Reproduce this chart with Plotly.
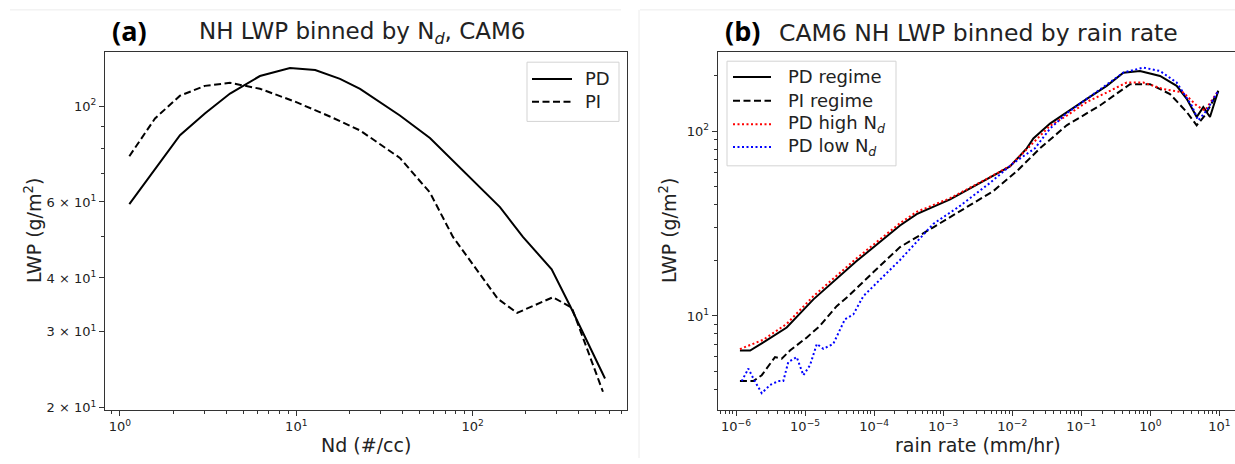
import plotly.graph_objects as go

# ---------------- Panel (a): LWP binned by Nd ----------------
nd_pd = [1.13, 1.58, 2.19, 3.03, 4.21, 6.22, 9.21, 12.8, 17.7, 23.0, 38.7, 57.3, 96.7, 143, 193, 281, 357, 446, 564]
lwp_pd_a = [59.3, 71.3, 85.7, 96.2, 107, 117.5, 122.6, 121.3, 115.7, 109.7, 95.2, 84.4, 68.4, 58.4, 49.8, 41.9, 34.5, 28.6, 23.4]

nd_pi = [1.13, 1.58, 2.19, 3.03, 4.21, 6.22, 9.83, 15.5, 23.0, 38.7, 57.3, 77.4, 139, 179, 286, 366, 549]
lwp_pi_a = [76.6, 93.7, 105.8, 111.5, 113.3, 109.8, 102.5, 94.7, 87.9, 75.9, 63.1, 49.8, 35.8, 33.2, 36.1, 34.1, 21.8]

# ---------------- Panel (b): LWP binned by rain rate ----------------
rr_pd = [1.14e-6, 1.60e-6, 2.49e-6, 5.42e-6, 1.32e-5, 5.47e-5, 2.37e-4, 4.13e-4, 1.26e-3, 4.27e-3,
         9.27e-3, 1.62e-2, 2.02e-2, 3.52e-2, 6.14e-2, 0.120, 0.233, 0.406, 0.706, 1.38,
         2.40, 3.36, 4.68, 5.83, 7.29, 9.62]
lwp_pd_b = [6.5, 6.5, 7.2, 8.66, 12.3, 19.7, 30.9, 35.6, 42.8, 54.7,
            64.5, 80.8, 91.4, 110, 127, 149.6, 176, 207.5, 211.7, 199,
            176, 149.6, 119.4, 135, 119.4, 165.6]

rr_pi = [1.14e-6, 1.78e-6, 2.36e-6, 3.67e-6, 4.59e-6, 6.05e-6, 1.06e-5, 1.64e-5, 2.87e-5, 4.23e-5,
         9.95e-5, 2.37e-4, 7.19e-4, 2.19e-3, 5.31e-3, 1.16e-2, 2.52e-2, 6.14e-2, 0.186, 0.507,
         0.986, 1.92, 3.36, 4.68, 6.17, 9.62]
lwp_pi_b = [4.44, 4.44, 4.78, 5.99, 5.87, 6.5, 7.65, 8.84, 11.3, 12.8,
            17.4, 23.6, 30.2, 38.6, 47.4, 60.7, 80.8, 107.6, 137.7, 179.7,
            179.7, 159, 127, 107.6, 121.8, 165]

rr_high = [1.14e-6, 2.49e-6, 5.42e-6, 1.32e-5, 5.47e-5, 2.37e-4, 4.13e-4, 1.26e-3, 4.27e-3, 9.27e-3,
           1.62e-2, 3.52e-2, 6.14e-2, 0.120, 0.233, 0.454, 0.789, 1.54, 2.99, 4.68,
           6.17, 9.62]
lwp_high = [6.62, 7.44, 9.06, 12.8, 20.4, 31.8, 36.6, 43.4, 55.2, 64.8,
            79.8, 107, 121.3, 144, 162, 183.5, 183.5, 169, 162, 137.7,
            129.5, 165.6]

rr_low = [1.21e-6, 1.51e-6, 1.78e-6, 2.36e-6, 3.11e-6, 4.10e-6, 4.84e-6, 5.71e-6, 7.57e-6, 9.44e-6,
          1.18e-5, 1.48e-5, 1.84e-5, 2.56e-5, 3.78e-5, 5.00e-5, 6.97e-5, 2.37e-4, 7.19e-4, 1.75e-3,
          4.76e-3, 1.035e-2, 2.13e-2, 3.52e-2, 6.14e-2, 0.120, 0.233, 0.406, 0.789, 1.38,
          2.40, 3.96, 4.94, 6.53, 9.62]
lwp_low = [4.44, 5.19, 4.59, 3.82, 4.23, 4.44, 4.44, 5.63, 5.99, 4.78,
           5.41, 7.06, 6.64, 7.06, 9.6, 10.2, 12.8, 20.1, 31.5, 39.4,
           52.5, 67.2, 80.8, 103.3, 125, 150, 178, 207.5, 221, 211.7,
           183.5, 137.7, 114.5, 129.5, 165.6]

# legend labels
legend_a = ["PD", "PI"]
legend_b = ["PD regime", "PI regime", "PD high N<sub><i>d</i></sub>", "PD low N<sub><i>d</i></sub>"]

# tick definitions
a_x_major = [1, 10, 100]
a_x_major_text = ["10<sup>0</sup>", "10<sup>1</sup>", "10<sup>2</sup>"]
a_y_major = [20, 30, 40, 60, 100]
a_y_major_text = ["2 × 10<sup>1</sup>", "3 × 10<sup>1</sup>", "4 × 10<sup>1</sup>",
                  "6 × 10<sup>1</sup>", "10<sup>2</sup>"]
b_x_major = [1e-6, 1e-5, 1e-4, 1e-3, 1e-2, 1e-1, 1, 10]
b_x_major_text = ["10<sup>−6</sup>", "10<sup>−5</sup>", "10<sup>−4</sup>", "10<sup>−3</sup>",
                  "10<sup>−2</sup>", "10<sup>−1</sup>", "10<sup>0</sup>", "10<sup>1</sup>"]
b_y_major = [10, 100]
b_y_major_text = ["10<sup>1</sup>", "10<sup>2</sup>"]

a_x_minor = [0.9] + [m * 10 ** e for e in (0, 1, 2) for m in range(2, 10) if m * 10 ** e < 750]
a_y_minor = [50, 70, 80, 90]
b_x_minor = [m * 10.0 ** e for e in range(-7, 2) for m in range(2, 10) if 5.5e-7 < m * 10.0 ** e < 16]
b_y_minor = [4, 5, 6, 7, 8, 9, 20, 30, 40, 50, 60, 70, 80, 90, 200]

W, H = 1235, 464
FONT = "DejaVu Sans"
INK = "#222222"
SPINE = "#333333"
DASH = "7px,3.5px"
DOT = "2px,2.5px"

styles_a = [dict(color="black", width=2), dict(color="black", width=2, dash=DASH)]
styles_b = [dict(color="black", width=2), dict(color="black", width=2, dash=DASH),
            dict(color="red", width=2, dash=DOT), dict(color="blue", width=2, dash=DOT)]

fig = go.Figure()
for xs, ys, nm, st in zip([nd_pd, nd_pi], [lwp_pd_a, lwp_pi_a], legend_a, styles_a):
    fig.add_trace(go.Scatter(x=xs, y=ys, mode="lines", name=nm, line=st, xaxis="x", yaxis="y",
                             showlegend=False))
for xs, ys, nm, st in zip([rr_pd, rr_pi, rr_high, rr_low], [lwp_pd_b, lwp_pi_b, lwp_high, lwp_low],
                          legend_b, styles_b):
    fig.add_trace(go.Scatter(x=xs, y=ys, mode="lines", name=nm, line=st, xaxis="x2", yaxis="y2",
                             showlegend=False))

ydom = [49 / H, 411 / H]


def axis(domain, rng, tv, tt, minor_vals, mirror=True, anchor=None):
    d = dict(type="log", domain=domain, range=rng, tickmode="array", tickvals=tv, ticktext=tt,
             ticks="outside", ticklen=5, tickwidth=1, tickcolor=SPINE,
             showline=True, linecolor=SPINE, linewidth=1, mirror=mirror,
             showgrid=False, zeroline=False,
             tickfont=dict(family=FONT, size=13, color=INK),
             minor=dict(tickmode="array", tickvals=minor_vals, ticks="outside", ticklen=3,
                        tickwidth=1, tickcolor=SPINE, showgrid=False))
    if anchor:
        d["anchor"] = anchor
    return d


fig.update_layout(
    width=W, height=H, margin=dict(l=0, r=0, t=0, b=0),
    paper_bgcolor="white", plot_bgcolor="white",
    font=dict(family=FONT, color=INK),
    xaxis=axis([105 / W, 627 / W], [-0.085, 2.876], a_x_major, a_x_major_text, a_x_minor, anchor="y"),
    yaxis=axis(ydom, [1.297, 2.125], a_y_major, a_y_major_text, a_y_minor, anchor="x"),
    xaxis2=axis([717.7 / W, 1.0], [-6.265, 1.225], b_x_major, b_x_major_text, b_x_minor, anchor="y2"),
    yaxis2=axis(ydom, [0.493, 2.427], b_y_major, b_y_major_text, b_y_minor, mirror=False, anchor="x2"),
    showlegend=False,
)


def px(x):
    return x / W


def py(y):
    return 1 - y / H


def label(text, x, y, size, family=FONT, color=INK, angle=0, xanchor="center"):
    return dict(text=text, x=px(x), y=py(y), xref="paper", yref="paper",
                xanchor=xanchor, yanchor="middle", showarrow=False, textangle=angle,
                font=dict(family=family, size=size, color=color))


ann = [
    label("<b>(a)</b>", 129, 31, 27, family="Open Sans", color="black"),
    label("NH LWP binned by N<sub><i>d</i></sub>, CAM6", 362, 33, 23),
    label("<b>(b)</b>", 742, 31, 27, family="Open Sans", color="black"),
    label("CAM6 NH LWP binned by rain rate", 979, 33, 23.5),
    label("Nd (#/cc)", 366, 451, 19),
    label("rain rate (mm/hr)", 978, 451, 19),
    label("LWP (g/m<sup>2</sup>)", 33, 234, 19, angle=-90),
    label("LWP (g/m<sup>2</sup>)", 668, 234, 19, angle=-90),
]

faint = "#ececec"
shapes = [
    dict(type="line", xref="paper", yref="paper", x0=px(10), x1=px(621), y0=py(10), y1=py(10),
         line=dict(color=faint, width=1)),
    dict(type="line", xref="paper", yref="paper", x0=px(640), x1=1.0, y0=py(10), y1=py(10),
         line=dict(color=faint, width=1)),
    dict(type="line", xref="paper", yref="paper", x0=px(639), x1=px(639), y0=0, y1=py(10),
         line=dict(color=faint, width=1)),
]


def legend_box(x0, x1, y0, y1, lx0, lx1, tx, rows, names, sts):
    shapes.append(dict(type="rect", xref="paper", yref="paper", x0=px(x0), x1=px(x1), y0=py(y1), y1=py(y0),
                       line=dict(color="#d3d3d3", width=1), fillcolor="rgba(255,255,255,0.85)"))
    for yy, nm, st in zip(rows, names, sts):
        shapes.append(dict(type="line", xref="paper", yref="paper", x0=px(lx0), x1=px(lx1),
                           y0=py(yy), y1=py(yy), line=st))
        ann.append(label(nm, tx, yy, 18, xanchor="left"))


legend_box(527, 619, 63, 123, 532, 572, 583, [80, 103], legend_a, styles_a)
legend_box(727, 896, 62, 168, 733, 771, 786, [78, 102, 126, 149], legend_b, styles_b)

fig.update_layout(annotations=ann, shapes=shapes)

fig.write_html("out.html")
